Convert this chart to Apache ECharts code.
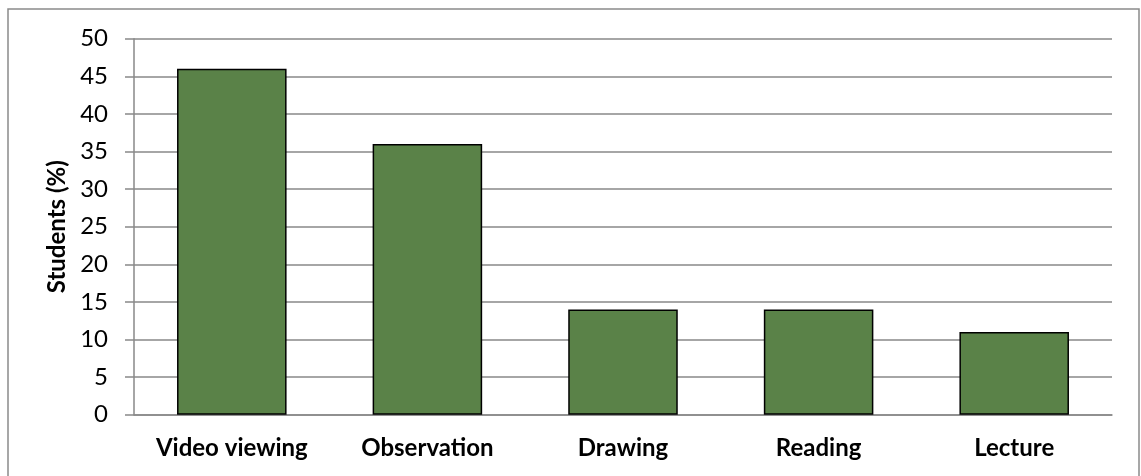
<!DOCTYPE html>
<html>
<head>
<meta charset="utf-8">
<script src="https://cdn.jsdelivr.net/npm/echarts@6/dist/echarts.min.js"></script>
<style>
  html, body { margin: 0; padding: 0; background: #fff; }
  #chart { width: 1141px; height: 476px; }
</style>
</head>
<body>
<div id="chart"></div>
<script>
// Teaching methods and share of students preferring each
const categories = ['Video viewing', 'Observation', 'Drawing', 'Reading', 'Lecture'];
const studentsPct = [46, 36, 14, 14, 11];
const yTicks = { min: 0, max: 50, interval: 5 };

const gridGray = '#898989';
const barGreen = '#5A8248';
const fontFamily = 'Lato, "Open Sans", sans-serif';

const chart = echarts.init(document.getElementById('chart'), null, { renderer: 'canvas' });
chart.setOption({
  animation: false,
  backgroundColor: '#fff',
  graphic: [{
    type: 'rect',
    shape: { x: 8, y: 9, width: 1131, height: 472 },
    style: { fill: 'none', stroke: '#8a8a8a', lineWidth: 1.5 },
    silent: true
  }],
  grid: { left: 134, right: 29, top: 38.7, bottom: 61.3, containLabel: false },
  xAxis: {
    type: 'category',
    data: categories,
    axisLine: { show: true, lineStyle: { color: gridGray, width: 1.5 } },
    axisTick: { show: false },
    axisLabel: {
      interval: 0, color: '#000', fontFamily, fontWeight: 'bold', fontSize: 24, margin: 22
    },
    splitLine: { show: false }
  },
  yAxis: {
    type: 'value',
    min: yTicks.min,
    max: yTicks.max,
    interval: yTicks.interval,
    name: 'Students (%)',
    nameLocation: 'middle',
    nameGap: 64,
    nameRotate: 90,
    nameTextStyle: { color: '#000', fontFamily, fontWeight: 'bold', fontSize: 24 },
    axisLine: { show: true, lineStyle: { color: gridGray, width: 1.5 } },
    axisTick: { show: true, length: 9, lineStyle: { color: gridGray, width: 1.5 } },
    axisLabel: { color: '#000', fontFamily, fontSize: 24, margin: 26 },
    splitLine: { show: true, lineStyle: { color: gridGray, width: 1.5 } }
  },
  series: [{
    type: 'bar',
    data: studentsPct,
    barCategoryGap: '44%',
    itemStyle: { color: barGreen, borderColor: '#000', borderWidth: 1.5 }
  }]
});
</script>
</body>
</html>
